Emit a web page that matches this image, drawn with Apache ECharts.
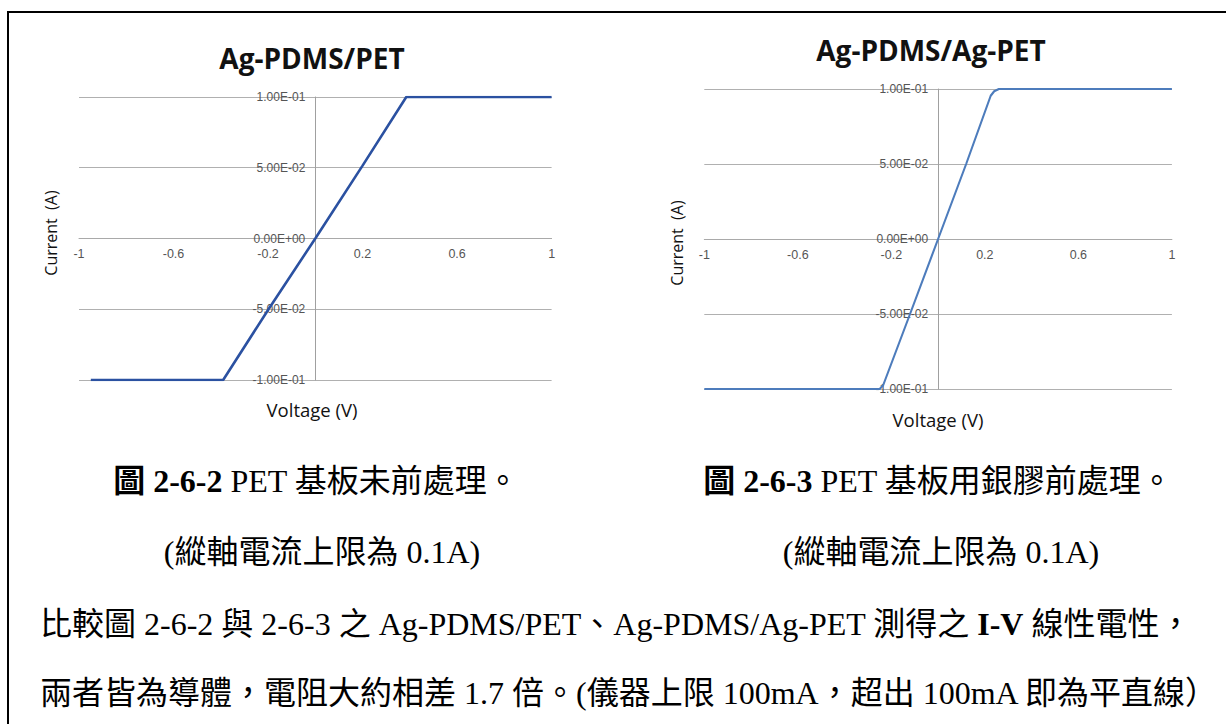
<!DOCTYPE html>
<html>
<head>
<meta charset="utf-8">
<script src="https://cdn.jsdelivr.net/npm/echarts@6/dist/echarts.min.js"></script>
<style>
  html, body { margin: 0; padding: 0; background: #fff; }
  #page { position: relative; width: 1226px; height: 724px; overflow: hidden; }
  #frame { position: absolute; left: 7px; top: 11px; right: -10px; bottom: -10px;
           border-left: 2px solid #000; border-top: 2px solid #000; }
  #chart { position: absolute; left: 0; top: 0; width: 1226px; height: 724px; }
  .cap { position: absolute; font-family: "Liberation Serif", "Noto Sans CJK TC", serif;
         font-size: 32px; line-height: 40px; color: #000; white-space: nowrap; }
  .cap.c { transform: translateX(-50%); }
  .cap b { font-weight: bold; }
</style>
</head>
<body>
<div id="page">
  <div id="frame"></div>
  <div id="chart"></div>
  <div class="cap c" style="left:316px; top:461px;"><b>圖 2-6-2</b> PET 基板未前處理。</div>
  <div class="cap c" style="left:938px; top:461px;"><b>圖 2-6-3</b> PET 基板用銀膠前處理。</div>
  <div class="cap c" style="left:322px; top:532px;">(縱軸電流上限為 0.1A)</div>
  <div class="cap c" style="left:941px; top:532px;">(縱軸電流上限為 0.1A)</div>
  <div class="cap" style="left:40px; top:604px;">比較圖 2-6-2 與 2-6-3 之 Ag-PDMS/PET、Ag-PDMS/Ag-PET 測得之 <b>I-V</b> 線性電性，</div>
  <div class="cap" style="left:40px; top:673px;">兩者皆為導體，電阻大約相差 1.7 倍。(儀器上限 100mA，超出 100mA 即為平直線）</div>
</div>
<script>
// I-V sweep of Ag-PDMS on bare PET (instrument clamps at ±0.1 A)
const voltage1 = [-0.95, -0.6, -0.39, -0.2, 0, 0.2, 0.385, 0.6, 1];
const current1 = [-0.1, -0.1, -0.1, -0.0505, 0, 0.0515, 0.1, 0.1, 0.1];

// I-V sweep of Ag-PDMS on silver-paste treated PET
const voltage2 = [-1, -0.6, -0.25, -0.235, -0.12, 0, 0.12, 0.225, 0.24, 0.26, 0.6, 1];
const current2 = [-0.1, -0.1, -0.1, -0.0975, -0.05, 0, 0.05, 0.0955, 0.0985, 0.1, 0.1, 0.1];

// labelled voltage ticks and current gridlines
const xTickLabels = [-1, -0.6, -0.2, 0.2, 0.6, 1];
const yTicks = [-0.1, -0.05, 0, 0.05, 0.1];

const chartTitles = ['Ag-PDMS/PET', 'Ag-PDMS/Ag-PET'];
const xName = 'Voltage (V)';
const yName = 'Current  (A)';

function sci(v) {
  if (Math.abs(v) < 1e-12) return '0.00E+00';
  const e = Math.floor(Math.log10(Math.abs(v)) + 1e-9);
  const m = v / Math.pow(10, e);
  return m.toFixed(2) + 'E' + (e < 0 ? '-' : '+') + String(Math.abs(e)).padStart(2, '0');
}
function xLabel(v) {
  return xTickLabels.some(t => Math.abs(t - v) < 1e-6) ? String(parseFloat(v.toFixed(1))) : '';
}
function pairs(xs, ys) { return xs.map((x, i) => [x, ys[i]]); }

const W = 1226, H = 724;
const grids = [
  { left: 79, right: 674.4, top: 97, bottom: 344 },
  { left: 704.3, right: 54.1, top: 89, bottom: 335 }
];
const lineStyles = [
  { color: '#2b51a1', width: 2.6 },
  { color: '#4d7cbc', width: 2.1 }
];

// both axes cross at the origin, which sits at the centre of each plot area
function xAxis(i) {
  const g = grids[i];
  const h = H - g.top - g.bottom;
  return {
    type: 'value', gridIndex: i, min: -1, max: 1, interval: 0.2,
    position: 'bottom', offset: -h / 2,
    axisLine: { onZero: false, lineStyle: { color: '#a9a9a9', width: 1 } },
    axisTick: { show: false },
    splitLine: { show: false },
    axisLabel: { formatter: xLabel, margin: 9, color: '#555', fontSize: 12.5,
                 fontFamily: 'Liberation Sans, Arial, sans-serif', showMinLabel: true, showMaxLabel: true }
  };
}
function yAxis(i) {
  const g = grids[i];
  const w = W - g.left - g.right;
  return {
    type: 'value', gridIndex: i, min: yTicks[0], max: yTicks[yTicks.length - 1], interval: 0.05,
    position: 'left', offset: -w / 2,
    axisLine: { show: true, onZero: false, lineStyle: { color: '#a0a0a0', width: 1 } },
    axisTick: { show: false },
    splitLine: { show: true, lineStyle: { color: '#b0b0b0', width: 1 } },
    axisLabel: { formatter: sci, margin: 10, color: '#555', fontSize: 12,
                 fontFamily: 'Liberation Sans, Arial, sans-serif' }
  };
}

function txt(text, x, y, size, bold, rot) {
  return {
    type: 'text', x: x, y: y, rotation: rot || 0, z: 10,
    style: { text: text, fill: '#111', textAlign: 'center', textVerticalAlign: 'middle',
             font: (bold ? 'bold ' : '') + size + 'px "Open Sans", sans-serif' }
  };
}

const chart = echarts.init(document.getElementById('chart'), null, { renderer: 'svg' });
chart.setOption({
  animation: false,
  grid: grids,
  xAxis: [xAxis(0), xAxis(1)],
  yAxis: [yAxis(0), yAxis(1)],
  series: [
    { type: 'line', xAxisIndex: 0, yAxisIndex: 0, data: pairs(voltage1, current1),
      showSymbol: false, lineStyle: lineStyles[0], z: 5 },
    { type: 'line', xAxisIndex: 1, yAxisIndex: 1, data: pairs(voltage2, current2),
      showSymbol: false, lineStyle: lineStyles[1], z: 5 }
  ],
  graphic: [
    txt(chartTitles[0], 312, 58, 28, true),
    txt(chartTitles[1], 931, 50, 28, true),
    txt(xName, 312, 409, 18.5, false),
    txt(xName, 938, 419, 18.5, false),
    txt(yName, 51, 233, 16, false, Math.PI / 2),
    txt(yName, 677, 243, 16, false, Math.PI / 2)
  ]
});
</script>
</body>
</html>
